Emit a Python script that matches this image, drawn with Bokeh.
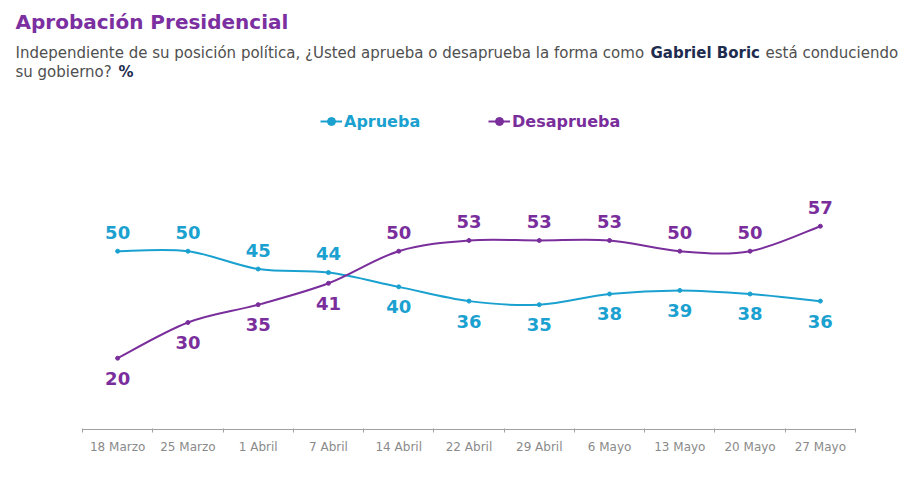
from bokeh.plotting import figure
from bokeh.models import (Range1d, FixedTicker, LinearAxis, Legend, LegendItem,
                          Label, ColumnDataSource)
from bokeh.core.properties import value
from bokeh.embed import file_html
from bokeh.resources import INLINE

# ---- data ----
fechas = ["18 Marzo", "25 Marzo", "1 Abril", "7 Abril", "14 Abril", "22 Abril",
          "29 Abril", "6 Mayo", "13 Mayo", "20 Mayo", "27 Mayo"]
aprueba = [50, 50, 45, 44, 40, 36, 35, 38, 39, 38, 36]
desaprueba = [20, 30, 35, 41, 50, 53, 53, 53, 50, 50, 57]

C_APR = "#1AA1D0"
C_DES = "#7A2E9C"
C_TITLE = "#7B2FA0"
FONT = "DejaVu Sans"

idx = list(range(len(fechas)))
n = len(fechas)

# frame spans the whole canvas width; axis line limited with bounds
W = 906
LEFT_PX, RIGHT_PX = 82, 855
cw = (RIGHT_PX - LEFT_PX) / n
x0 = -0.5 - LEFT_PX / cw
x1 = n - 0.5 + (W - RIGHT_PX) / cw

p = figure(width=W, height=463, x_range=Range1d(x0, x1),
           y_range=Range1d(0, 120.3), output_backend="svg", toolbar_location=None,
           x_axis_type=None, y_axis_type=None,
           min_border_left=0, min_border_right=0, min_border_top=0,
           min_border_bottom=34)
p.outline_line_color = None
p.background_fill_color = "white"
p.border_fill_color = "white"

# x axis: labels centred on categories, tick marks at the boundaries
ax = LinearAxis(ticker=FixedTicker(ticks=idx, minor_ticks=[i - 0.5 for i in range(n + 1)]),
                bounds=(-0.5, n - 0.5))
ax.major_label_overrides = {i: f for i, f in zip(idx, fechas)}
ax.major_tick_line_color = None
ax.minor_tick_line_color = "#A0A0A0"
ax.minor_tick_in = 1
ax.minor_tick_out = 3
ax.axis_line_color = "#A0A0A0"
ax.major_label_standoff = 4
ax.major_label_text_font = FONT
ax.major_label_text_font_size = "12px"
ax.major_label_text_color = "#8A8A8A"
p.add_layout(ax, "below")


def spline(xs, ys):
    """Catmull-Rom segments expressed as cubic Bezier control points."""
    m = len(xs)
    seg = dict(x0=[], y0=[], x1=[], y1=[], cx0=[], cy0=[], cx1=[], cy1=[])
    for i in range(m - 1):
        xm, ym = (xs[i - 1], ys[i - 1]) if i > 0 else (xs[i], ys[i])
        xp, yp = (xs[i + 2], ys[i + 2]) if i + 2 < m else (xs[i + 1], ys[i + 1])
        seg["x0"].append(xs[i]); seg["y0"].append(ys[i])
        seg["x1"].append(xs[i + 1]); seg["y1"].append(ys[i + 1])
        seg["cx0"].append(xs[i] + (xs[i + 1] - xm) / 6)
        seg["cy0"].append(ys[i] + (ys[i + 1] - ym) / 6)
        seg["cx1"].append(xs[i + 1] - (xp - xs[i]) / 6)
        seg["cy1"].append(ys[i + 1] - (yp - ys[i]) / 6)
    return ColumnDataSource(seg)


for name, vals, other, col, lx in [("Aprueba", aprueba, desaprueba, C_APR, 320),
                                    ("Desaprueba", desaprueba, aprueba, C_DES, 488)]:
    p.bezier(x0="x0", y0="y0", x1="x1", y1="y1", cx0="cx0", cy0="cy0",
             cx1="cx1", cy1="cy1", source=spline(idx, vals), line_color=col, line_width=2)
    dots = p.scatter(idx, vals, size=4, color=col)
    offs = [-19 if v >= o else 20 for v, o in zip(vals, other)]
    p.text(x=idx, y=vals, text=[str(v) for v in vals], y_offset=offs,
           text_align="center", text_baseline="middle", text_color=col,
           text_font=value(FONT), text_font_style="bold", text_font_size="18px")
    proxy = p.line(x=[0, 1], y=[float("nan"), float("nan")], line_color=col, line_width=2)
    leg = Legend(items=[LegendItem(label=name, renderers=[proxy, dots])],
                 location=(lx, 298), orientation="horizontal", padding=0, margin=0,
                 border_line_color=None, background_fill_alpha=0,
                 label_text_color=col, label_text_font=FONT,
                 label_text_font_style="bold", label_text_font_size="16px",
                 glyph_width=22, glyph_height=20, label_height=20, label_standoff=2)
    p.add_layout(leg)

# ---- title and subtitle ----
def lab(x, y, text, size, color, style="normal"):
    p.add_layout(Label(x=x, y=y, x_units="screen", y_units="screen", text=text,
                       text_font=FONT, text_font_size=size, text_color=color,
                       text_font_style=style, text_baseline="middle"))

GRAY = "#4F4F4F"
NAVY = "#1E2C4F"
lab(15, 408, "Aprobación Presidencial", "20px", C_TITLE, "bold")
lab(15, 377, "Independiente de su posición política, ¿Usted aprueba o desaprueba la forma como",
    "15px", GRAY)
lab(650, 377, "Gabriel Boric", "15px", NAVY, "bold")
lab(765, 377, "está conduciendo", "15px", GRAY)
lab(15, 358, "su gobierno?", "15px", GRAY)
lab(118, 358, "%", "15px", NAVY, "bold")

open("out.html", "w").write(file_html(p, INLINE))
